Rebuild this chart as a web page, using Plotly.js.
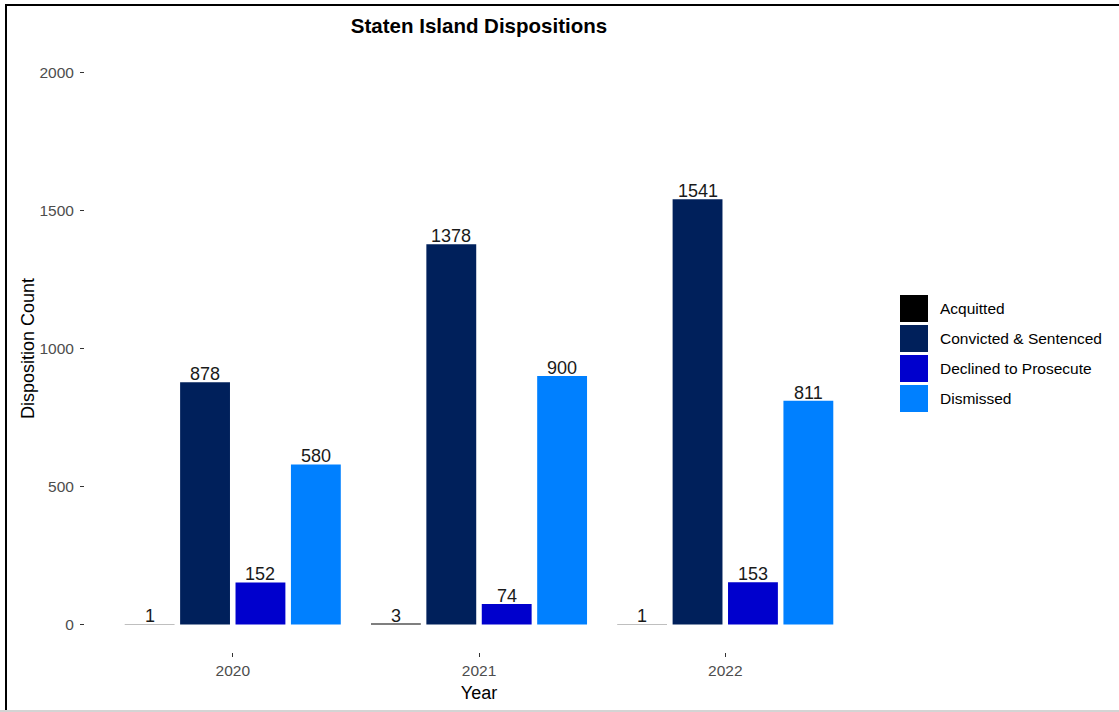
<!DOCTYPE html>
<html>
<head>
<meta charset="utf-8">
<script src="https://cdn.plot.ly/plotly-3.0.1.min.js"></script>
<style>
  html, body { margin: 0; padding: 0; background: #fff; }
  #wrap { position: relative; width: 1119px; height: 712px; overflow: hidden; }
  #chart { width: 1119px; height: 712px; }
  .edge { position: absolute; pointer-events: none; }
</style>
</head>
<body>
<div id="wrap">
  <div id="chart"></div>
  <div class="edge" style="left:5px;top:4px;width:1114px;height:2px;background:#000;"></div>
  <div class="edge" style="left:5px;top:4px;width:2px;height:708px;background:#000;"></div>
  <div class="edge" style="left:0;top:710px;width:1119px;height:2px;background:#d4d4d4;"></div>
</div>
<script>
// ---- data ----
const years = ['2020', '2021', '2022'];
const seriesNames = ['Acquitted', 'Convicted & Sentenced', 'Declined to Prosecute', 'Dismissed'];
const acquitted = [1, 3, 1];
const convicted = [878, 1378, 1541];
const declined = [152, 74, 153];
const dismissed = [580, 900, 811];
const seriesValues = [acquitted, convicted, declined, dismissed];
const seriesColors = ['#000000', '#00205B', '#0000CD', '#0080FF'];
const yTickVals = [0, 500, 1000, 1500, 2000];

// ---- layout geometry ----
const W = 1119, H = 712;
const M = { l: 85, r: 246, t: 45, b: 60 };
const plotW = W - M.l - M.r, plotH = H - M.t - M.b;
const px2x = px => (px - M.l) / plotW;
const px2y = py => (H - M.b - py) / plotH;
const BARGAP = 0.1;
const nSeries = seriesNames.length;
const slot = (1 - BARGAP) / nSeries;
const FONT = 'Arial, "Liberation Sans", sans-serif';

const traces = seriesNames.map((name, i) => ({
  type: 'bar',
  name: name,
  x: years,
  y: seriesValues[i],
  marker: { color: seriesColors[i] },
  hoverinfo: 'x+y+name'
}));

// value labels above bars, positioned through the axis scales
const labelAnnots = [];
seriesValues.forEach((vals, i) => {
  vals.forEach((v, j) => {
    labelAnnots.push({
      xref: 'x', yref: 'y',
      x: j + (i - (nSeries - 1) / 2) * slot,
      y: v,
      xanchor: 'center', yanchor: 'bottom', yshift: -4,
      showarrow: false,
      text: String(v),
      font: { family: FONT, size: 18, color: '#1a1a1a' }
    });
  });
});

// custom legend (large square keys)
const legendShapes = [];
const legendAnnots = [];
seriesNames.forEach((name, i) => {
  const top = 295 + i * 30;
  legendShapes.push({
    type: 'rect', xref: 'paper', yref: 'paper',
    x0: px2x(900), x1: px2x(928), y0: px2y(top + 27), y1: px2y(top),
    fillcolor: seriesColors[i], line: { width: 0 }
  });
  legendAnnots.push({
    xref: 'paper', yref: 'paper', x: px2x(938), y: px2y(top + 13.5),
    xanchor: 'left', yanchor: 'middle', showarrow: false,
    text: name,
    font: { family: FONT, size: 15.5, color: '#000' }
  });
});

const layout = {
  width: W, height: H,
  margin: M,
  paper_bgcolor: '#fff', plot_bgcolor: '#fff',
  barmode: 'group', bargap: BARGAP, bargroupgap: 0.1,
  showlegend: false,
  font: { family: FONT },
  title: {
    text: '<b>Staten Island Dispositions</b>',
    xref: 'paper', x: 0.5, xanchor: 'center',
    yref: 'container', y: 1 - 26 / H, yanchor: 'middle',
    font: { family: FONT, size: 20.5, color: '#000' }
  },
  xaxis: {
    type: 'category',
    range: [-0.6, 2.6],
    showgrid: false, zeroline: false, showline: false,
    ticks: 'outside', ticklen: 4, tickwidth: 1, tickcolor: '#333',
    ticklabelstandoff: 0,
    tickfont: { size: 15.5, color: '#4d4d4d' },
    title: { text: 'Year', standoff: 8, font: { size: 18, color: '#000' } }
  },
  yaxis: {
    range: [-100, 2100],
    tickvals: yTickVals,
    ticktext: yTickVals.map(String),
    showgrid: false, zeroline: false, showline: false,
    ticks: 'outside', ticklen: 4, tickwidth: 1, tickcolor: '#333',
    ticklabelstandoff: 3,
    tickfont: { size: 15.5, color: '#4d4d4d' },
    title: { text: 'Disposition Count', standoff: 0, font: { size: 18, color: '#000' } }
  },
  shapes: legendShapes,
  annotations: labelAnnots.concat(legendAnnots)
};

Plotly.newPlot('chart', traces, layout, { displayModeBar: false, staticPlot: true });
</script>
</body>
</html>
